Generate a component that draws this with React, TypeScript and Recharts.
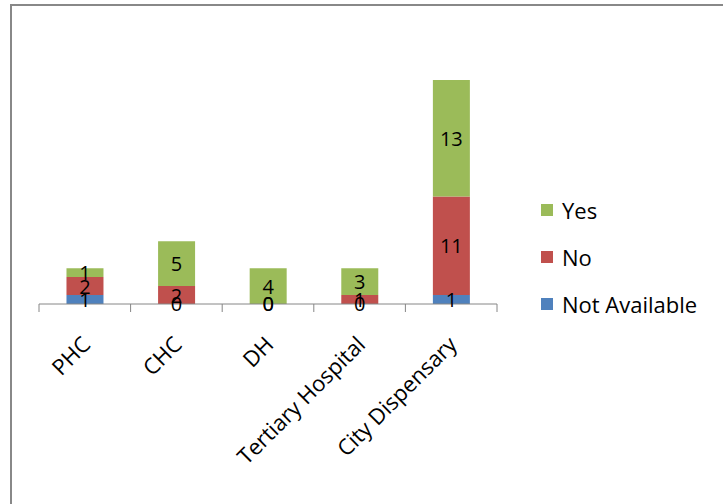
import React from "react"
import { BarChart, Bar, XAxis, YAxis, LabelList } from "recharts"

const categories = ["PHC", "CHC", "DH", "Tertiary Hospital", "City Dispensary"]
const notAvailable = [1, 0, 0, 0, 1]
const no = [2, 2, 0, 1, 11]
const yes = [1, 5, 4, 3, 13]

const seriesNames = ["Yes", "No", "Not Available"]
const seriesColors = ["#9BBB59", "#C0504D", "#4F81BD"]

const data = categories.map((name, i) => ({
  name,
  notAvailable: notAvailable[i],
  no: no[i],
  yes: yes[i],
}))

const FONT = "'Open Sans', Lato, sans-serif"

const CategoryTick = (props: any) => {
  const { x, y, payload, index, visibleTicksCount } = props
  const half = payload.offset || 45.8
  const axisY = y - 8
  const tx = x + 7
  const ty = axisY + 42
  return (
    <g>
      <line x1={x - half} y1={axisY} x2={x - half} y2={axisY + 8} stroke="#868686" />
      {index === visibleTicksCount - 1 && (
        <line x1={x + half} y1={axisY} x2={x + half} y2={axisY + 8} stroke="#868686" />
      )}
      <text
        x={tx}
        y={ty}
        transform={`rotate(-45, ${tx}, ${ty})`}
        textAnchor="end"
        fontSize={22}
        fontFamily={FONT}
        fill="#000"
      >
        {payload.value}
      </text>
    </g>
  )
}

// value drawn in the middle of each segment, zeros included
const SegmentLabel = (props: any) => {
  const { x, y, width, height, value } = props
  return (
    <text
      x={x + width / 2}
      y={y + height / 2}
      textAnchor="middle"
      dominantBaseline="central"
      fontSize={20}
      fontFamily={FONT}
      fill="#000"
    >
      {value}
    </text>
  )
}

export default function App() {
  return (
    <div style={{ position: "absolute", left: 0, top: 0, width: 723, height: 504, background: "#fff", overflow: "hidden" }}>
      <div
        style={{
          position: "absolute",
          left: 10,
          top: 4,
          width: 740,
          height: 520,
          borderTop: "2px solid #888",
          borderLeft: "2px solid #888",
        }}
      />
      <BarChart
        width={723}
        height={504}
        data={data}
        margin={{ top: 80, right: 226, bottom: 0, left: 39 }}
        barCategoryGap="30%"
      >
        <YAxis hide domain={[0, 25]} />
        <XAxis
          dataKey="name"
          height={200}
          stroke="#868686"
          tickLine={false}
          tick={<CategoryTick />}
          interval={0}
        />
        {/* tiny minPointSize keeps zero segments so their "0" labels still show */}
        <Bar dataKey="notAvailable" name="Not Available" stackId="a" fill="#4F81BD" isAnimationActive={false} minPointSize={0.01}>
          <LabelList dataKey="notAvailable" content={<SegmentLabel />} />
        </Bar>
        <Bar dataKey="no" name="No" stackId="a" fill="#C0504D" isAnimationActive={false} minPointSize={0.01}>
          <LabelList dataKey="no" content={<SegmentLabel />} />
        </Bar>
        <Bar dataKey="yes" name="Yes" stackId="a" fill="#9BBB59" isAnimationActive={false}>
          <LabelList dataKey="yes" content={<SegmentLabel />} />
        </Bar>
      </BarChart>
      <div style={{ position: "absolute", left: 541, top: 186, fontFamily: FONT, fontSize: 22, color: "#000" }}>
        {seriesNames.map((n, i) => (
          <div key={n} style={{ display: "flex", alignItems: "center", height: 47 }}>
            <span style={{ width: 12, height: 12, background: seriesColors[i], marginRight: 9, display: "inline-block" }} />
            {n}
          </div>
        ))}
      </div>
    </div>
  )
}
